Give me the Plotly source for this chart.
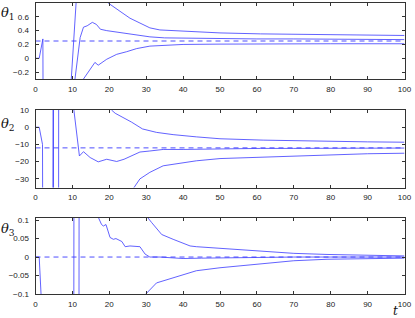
import plotly.graph_objects as go

# ---------------- data ----------------
T_TICKS = [0, 10, 20, 30, 40, 50, 60, 70, 80, 90, 100]

# panel 1 : theta_1
TRUE1 = 0.25
est1_t = [0, 1, 2, 2.1, 10.5, 10.7, 12.1, 13, 14, 15.4, 16.5, 17.6, 19.3, 22, 25, 27.5, 31, 35, 40, 50, 60, 70, 80, 90, 100]
est1_y = [0, 0, 0.28, -1.5, -1.5, -0.3, 0.3, 0.45, 0.47, 0.52, 0.49, 0.42, 0.40, 0.38, 0.36, 0.345, 0.31, 0.295, 0.29, 0.285, 0.28, 0.28, 0.278, 0.275, 0.27]
up1_t = [9.5, 9.7, 11.0, 11.2, 18.5, 19.7, 22.9, 25.6, 28.3, 31, 33.7, 40, 50, 61, 70, 83, 100]
up1_y = [-1.5, -0.3, 0.8, 1.5, 1.5, 0.8, 0.68, 0.58, 0.51, 0.44, 0.41, 0.39, 0.367, 0.353, 0.347, 0.333, 0.33]
lo1_t = [12.5, 13.0, 16.1, 17.0, 19.3, 22, 24.7, 27.4, 31, 35, 40, 50, 60, 70, 80, 100]
lo1_y = [-1.0, -0.3, -0.06, -0.1, -0.014, 0.057, 0.095, 0.14, 0.176, 0.19, 0.20, 0.205, 0.21, 0.21, 0.21, 0.21]
Y1_TICKS = [-0.2, 0, 0.2, 0.4, 0.6]

# panel 2 : theta_2
TRUE2 = -12
est2_t = [0, 1, 1.9, 2.0, 4.65, 4.7, 4.85, 4.9, 6.25, 6.3, 10.3, 10.4, 11.9, 13, 14.8, 17, 19.3, 20.3, 22, 24, 25.6, 27.4, 28.3, 31, 34.6, 40, 50, 61, 70, 80, 90, 100]
est2_y = [0, 0, -10, -100, -100, 100, 100, -100, -100, 100, 100, 10, -16.7, -14.2, -17.6, -20.1, -18.6, -19, -19.9, -18.6, -17, -15.3, -14.4, -13.8, -12.9, -12.9, -12.5, -12.3, -12.3, -12.2, -12.2, -12.1]
up2_t = [19.5, 20.6, 21.6, 24.7, 26, 27.5, 29, 32.8, 37.3, 43.6, 50, 61.7, 70, 80, 90, 100]
up2_y = [30, 10, 8.1, 4.8, 3.0, 1.0, -1.0, -3.0, -4.3, -5.6, -6.7, -7.5, -7.9, -8.3, -8.5, -8.7]
lo2_t = [25.5, 26.7, 28.3, 31, 34.6, 40, 43.6, 50, 61.7, 70, 80, 90, 100]
lo2_y = [-60, -35, -30, -26.2, -22.4, -20.5, -19.5, -18.2, -17.3, -16.5, -15.9, -15.4, -15.1]
Y2_TICKS = [-30, -20, -10, 0, 10]

# panel 3 : theta_3
TRUE3 = 0
est3_t = [0, 1, 2, 2.1, 10.35, 10.45, 16.5, 17.0, 17.9, 18.4, 19.1, 19.7, 20.2, 21.1, 21.8, 23.4, 24.3, 25.6, 28.3, 29.7, 31, 33.7, 37, 40, 45, 50, 60, 70, 80, 90, 100]
est3_y = [0, 0, -0.2, -0.5, -0.5, 0.5, 0.5, 0.108, 0.088, 0.084, 0.088, 0.066, 0.053, 0.048, 0.050, 0.042, 0.028, 0.030, 0.028, 0.008, 0.0, 0.0, -0.003, -0.004, -0.003, -0.002, -0.001, 0.0, 0.0, 0.0, 0.0]
up3_t = [11.75, 11.85, 30.0, 30.3, 31.5, 34.2, 37.3, 41.9, 43.6, 50, 61, 70, 79, 90, 100]
up3_y = [-0.5, 0.5, 0.5, 0.108, 0.093, 0.061, 0.048, 0.030, 0.028, 0.024, 0.017, 0.010, 0.007, 0.005, 0.003]
lo3_t = [29.6, 29.9, 32.8, 37.3, 43.6, 50, 61, 70, 79, 90, 100]
lo3_y = [-0.5, -0.1, -0.070, -0.056, -0.037, -0.029, -0.019, -0.010, -0.006, -0.004, -0.003]
Y3_TICKS = [-0.1, -0.05, 0, 0.05, 0.1]

panels = [
    dict(est=(est1_t, est1_y), up=(up1_t, up1_y), lo=(lo1_t, lo1_y), true=TRUE1,
         yr=[-0.3, 0.8], yt=Y1_TICKS, dom=[1 - 79 / 318, 1 - 3 / 318]),
    dict(est=(est2_t, est2_y), up=(up2_t, up2_y), lo=(lo2_t, lo2_y), true=TRUE2,
         yr=[-35, 10], yt=Y2_TICKS, dom=[1 - 187.5 / 318, 1 - 110 / 318]),
    dict(est=(est3_t, est3_y), up=(up3_t, up3_y), lo=(lo3_t, lo3_y), true=TRUE3,
         yr=[-0.1, 0.107], yt=Y3_TICKS, dom=[1 - 294 / 318, 1 - 217.5 / 318]),
]

LINE_COLOR = "#3a3aff"
X_DOM = [35.5 / 415, 404.5 / 415]
TICK_FONT = dict(family="Liberation Sans, Arial, sans-serif", size=8, color="#222")

fig = go.Figure()
layout = dict(
    width=415, height=318,
    margin=dict(l=0, r=0, t=0, b=0, pad=0, autoexpand=False),
    paper_bgcolor="white", plot_bgcolor="white",
    showlegend=False,
)

for i, p in enumerate(panels):
    k = "" if i == 0 else str(i + 1)
    xa, ya = "x" + k, "y" + k
    for key in ("up", "est", "lo"):
        tt, yy = p[key]
        fig.add_trace(go.Scatter(x=tt, y=yy, mode="lines", xaxis=xa, yaxis=ya,
                                 line=dict(color=LINE_COLOR, width=0.8), hoverinfo="skip"))
    fig.add_trace(go.Scatter(x=[0, 100], y=[p["true"], p["true"]], mode="lines", xaxis=xa, yaxis=ya,
                             line=dict(color=LINE_COLOR, width=0.9, dash="5px,4px"), hoverinfo="skip"))
    common = dict(showline=True, linecolor="#333", linewidth=1, mirror="ticks",
                  ticks="inside", ticklen=3, tickcolor="#333", tickwidth=0.8,
                  showgrid=False, zeroline=False, tickfont=TICK_FONT, automargin=False)
    layout["xaxis" + k] = dict(domain=X_DOM, range=[0, 100], tickvals=T_TICKS,
                               anchor=ya, ticklabelstandoff=2, **common)
    layout["yaxis" + k] = dict(domain=p["dom"], range=p["yr"], tickvals=p["yt"],
                               anchor=xa, ticklabelstandoff=4, **common)

fig.update_layout(**layout)

theta_y = [14, 124, 230]
for i, yy in enumerate(theta_y):
    fig.add_annotation(text="<i>θ</i><sub>%d</sub>" % (i + 1), xref="paper", yref="paper",
                       x=0 / 415, y=1 - yy / 318, xanchor="left", yanchor="middle", showarrow=False,
                       borderpad=0,
                       font=dict(family="DejaVu Serif, Liberation Serif, serif", size=13, color="#111"))
fig.add_annotation(text="<i>t</i>", xref="paper", yref="paper", x=395 / 415, y=1 - 311 / 318,
                   xanchor="center", yanchor="middle", showarrow=False, borderpad=0,
                   font=dict(family="DejaVu Serif, Liberation Serif, serif", size=12, color="#111"))

fig.write_html("out.html", config={"displayModeBar": False},
               post_script="document.body.style.margin='0';document.body.style.overflow='hidden';")
